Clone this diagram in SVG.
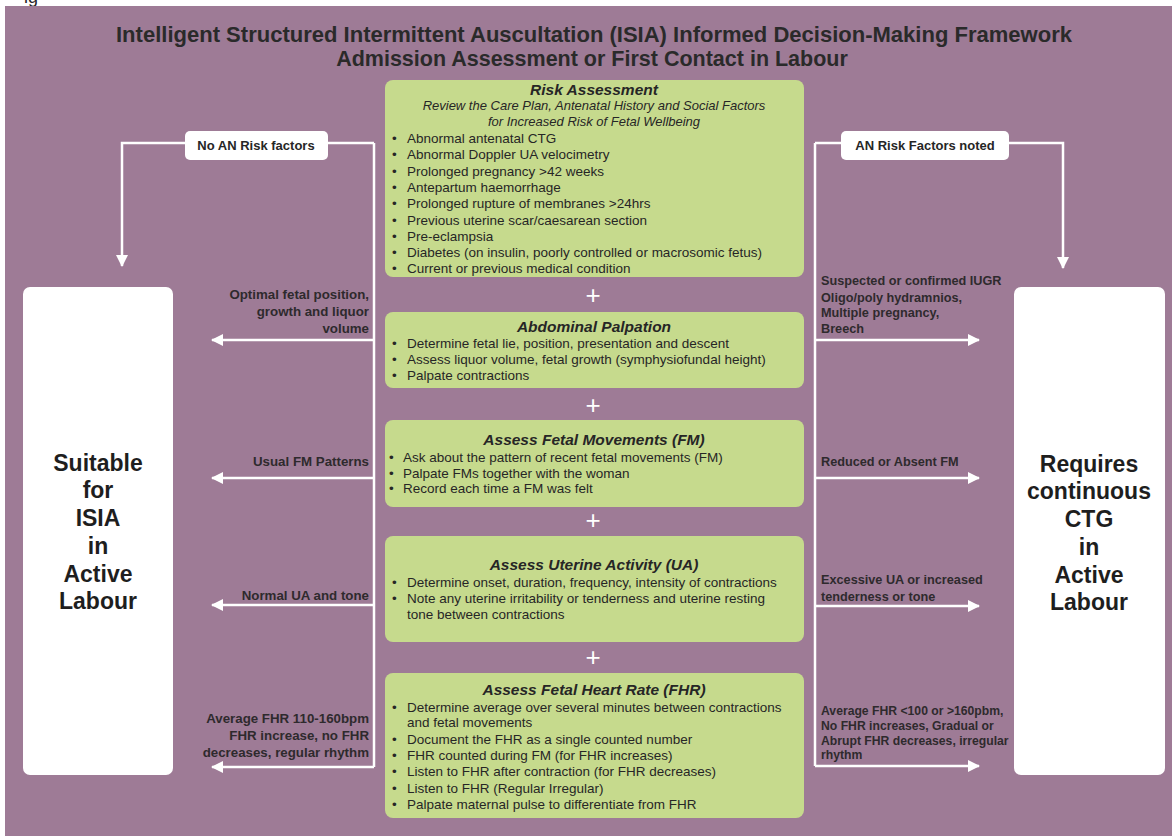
<svg xmlns="http://www.w3.org/2000/svg" width="1172" height="836" viewBox="0 0 1172 836">
<defs>
<marker id="arr" markerUnits="userSpaceOnUse" markerWidth="12" markerHeight="12" viewBox="0 0 12 12" refX="11" refY="6" orient="auto">
<path d="M0,0 L12,6 L0,12 Z" fill="#ffffff"/>
</marker>
</defs>
<style>
.bg{fill:#9e7b96}
.g{fill:#c6da8d}
.w{fill:#ffffff}
.t{font-family:"Liberation Sans",Arial,sans-serif;fill:#262626}
.title{font-size:21.5px;font-weight:bold;text-anchor:middle;fill:#2a2a2a}
.h{font-size:15.5px;font-weight:bold;font-style:italic;text-anchor:middle}
.sub{font-size:13px;font-style:italic;text-anchor:middle}
.b{font-size:13.5px}
.lab{font-size:13.3px;font-weight:bold;fill:#2e2a2d}
.labr{font-size:12.7px;font-weight:bold;fill:#2e2a2d}
.labs{font-size:12.2px;font-weight:bold;fill:#2e2a2d}
.r{text-anchor:end}
.big{font-size:23px;font-weight:bold;text-anchor:middle;fill:#1e1e1e}
.box{font-size:13px;font-weight:bold;text-anchor:middle}
.plus{font-size:26px;fill:#ffffff;text-anchor:middle}
.c{fill:none;stroke:#ffffff;stroke-width:2.5}
</style>
<rect x="0" y="0" width="1172" height="836" fill="#ffffff"/>
<text class="t" x="24" y="3" font-size="18" fill="#222">ig</text>
<rect class="bg" x="5" y="6" width="1167" height="830"/>

<g id="title">
<text class="t title" x="594" y="42" textLength="956" lengthAdjust="spacingAndGlyphs">Intelligent Structured Intermittent Auscultation (ISIA) Informed Decision-Making Framework</text>
<text class="t title" x="592" y="65.5">Admission Assessment or First Contact in Labour</text>
</g>

<g id="connectors">
<path class="c" d="M374,143 H122 V266" marker-end="url(#arr)"/>
<path class="c" d="M815,143 H1063 V268" marker-end="url(#arr)"/>
<path class="c" d="M374,143 V767"/>
<path class="c" d="M815,143 V766"/>
<path class="c" d="M374,340 H212" marker-end="url(#arr)"/>
<path class="c" d="M374,478 H212" marker-end="url(#arr)"/>
<path class="c" d="M374,605 H212" marker-end="url(#arr)"/>
<path class="c" d="M374,767 H212" marker-end="url(#arr)"/>
<path class="c" d="M815,340 H979" marker-end="url(#arr)"/>
<path class="c" d="M815,478 H979" marker-end="url(#arr)"/>
<path class="c" d="M815,606 H979" marker-end="url(#arr)"/>
<path class="c" d="M815,766 H979" marker-end="url(#arr)"/>
</g>

<g id="no-an-risk">
<rect class="w" x="185" y="131" width="143" height="29" rx="5"/>
<text class="t box" x="256" y="150">No AN Risk factors</text>
</g>
<g id="an-risk-noted">
<rect class="w" x="841" y="131" width="168" height="29" rx="5"/>
<text class="t box" x="925" y="150">AN Risk Factors noted</text>
</g>

<g id="risk-assessment">
<rect class="g" x="385" y="80" width="419" height="197" rx="8"/>
<text class="t h" x="594" y="95">Risk Assessment</text>
<text class="t sub" x="594" y="110">Review the Care Plan, Antenatal History and Social Factors</text>
<text class="t sub" x="594" y="126">for Increased Risk of Fetal Wellbeing</text>
<g class="t b">
<text x="392" y="143">•</text><text x="407" y="143">Abnormal antenatal CTG</text>
<text x="392" y="159">•</text><text x="407" y="159">Abnormal Doppler UA velocimetry</text>
<text x="392" y="176">•</text><text x="407" y="176">Prolonged pregnancy &gt;42 weeks</text>
<text x="392" y="192">•</text><text x="407" y="192">Antepartum haemorrhage</text>
<text x="392" y="208">•</text><text x="407" y="208">Prolonged rupture of membranes &gt;24hrs</text>
<text x="392" y="225">•</text><text x="407" y="225">Previous uterine scar/caesarean section</text>
<text x="392" y="241">•</text><text x="407" y="241">Pre-eclampsia</text>
<text x="392" y="257">•</text><text x="407" y="257">Diabetes (on insulin, poorly controlled or macrosomic fetus)</text>
<text x="392" y="273">•</text><text x="407" y="273">Current or previous medical condition</text>
</g>
</g>

<g id="plus-signs">
<text class="t plus" x="593" y="304">+</text>
<text class="t plus" x="593" y="414">+</text>
<text class="t plus" x="593" y="529">+</text>
<text class="t plus" x="593" y="666">+</text>
</g>

<g id="abdominal-palpation">
<rect class="g" x="385" y="312" width="419" height="76" rx="8"/>
<text class="t h" x="594" y="332">Abdominal Palpation</text>
<g class="t b">
<text x="392" y="348">•</text><text x="407" y="348">Determine fetal lie, position, presentation and descent</text>
<text x="392" y="364">•</text><text x="407" y="364">Assess liquor volume, fetal growth (symphysiofundal height)</text>
<text x="392" y="380">•</text><text x="407" y="380">Palpate contractions</text>
</g>
</g>

<g id="fetal-movements">
<rect class="g" x="385" y="420" width="419" height="87" rx="8"/>
<text class="t h" x="594" y="445">Assess Fetal Movements (FM)</text>
<g class="t b">
<text x="389" y="462">•</text><text x="403" y="462">Ask about the pattern of recent fetal movements (FM)</text>
<text x="389" y="478">•</text><text x="403" y="478">Palpate FMs together with the woman</text>
<text x="389" y="493">•</text><text x="403" y="493">Record each time a FM was felt</text>
</g>
</g>

<g id="uterine-activity">
<rect class="g" x="385" y="536" width="419" height="106" rx="8"/>
<text class="t h" x="594" y="570">Assess Uterine Activity (UA)</text>
<g class="t b">
<text x="392" y="587">•</text><text x="407" y="587">Determine onset, duration, frequency, intensity of contractions</text>
<text x="392" y="603">•</text><text x="407" y="603">Note any uterine irritability or tenderness and uterine resting</text>
<text x="407" y="619">tone between contractions</text>
</g>
</g>

<g id="fetal-heart-rate">
<rect class="g" x="385" y="673" width="419" height="145" rx="8"/>
<text class="t h" x="594" y="695">Assess Fetal Heart Rate (FHR)</text>
<g class="t b">
<text x="392" y="712">•</text><text x="407" y="712">Determine average over several minutes between contractions</text>
<text x="407" y="727">and fetal movements</text>
<text x="392" y="744">•</text><text x="407" y="744">Document the FHR as a single counted number</text>
<text x="392" y="760">•</text><text x="407" y="760">FHR counted during FM (for FHR increases)</text>
<text x="392" y="776">•</text><text x="407" y="776">Listen to FHR after contraction (for FHR decreases)</text>
<text x="392" y="793">•</text><text x="407" y="793">Listen to FHR (Regular Irregular)</text>
<text x="392" y="809">•</text><text x="407" y="809">Palpate maternal pulse to differentiate from FHR</text>
</g>
</g>

<g id="suitable-isia">
<rect class="w" x="23" y="287" width="150" height="488" rx="7"/>
<g class="t big">
<text x="98" y="471">Suitable</text>
<text x="98" y="498">for</text>
<text x="98" y="526">ISIA</text>
<text x="98" y="554">in</text>
<text x="98" y="582">Active</text>
<text x="98" y="609">Labour</text>
</g>
</g>

<g id="requires-ctg">
<rect class="w" x="1014" y="287" width="151" height="488" rx="7"/>
<g class="t big">
<text x="1089" y="472">Requires</text>
<text x="1089" y="499">continuous</text>
<text x="1089" y="527">CTG</text>
<text x="1089" y="555">in</text>
<text x="1089" y="583">Active</text>
<text x="1089" y="610">Labour</text>
</g>
</g>

<g id="left-labels" class="t lab r">
<text x="369" y="299">Optimal fetal position,</text>
<text x="369" y="316">growth and liquor</text>
<text x="369" y="333">volume</text>
<text x="369" y="466">Usual FM Patterns</text>
<text x="369" y="600">Normal UA and tone</text>
<text x="369" y="723">Average FHR 110-160bpm</text>
<text x="369" y="740">FHR increase, no FHR</text>
<text x="369" y="757">decreases, regular rhythm</text>
</g>

<g id="right-labels" class="t labr">
<text x="821" y="285">Suspected or confirmed IUGR</text>
<text x="821" y="302">Oligo/poly hydramnios,</text>
<text x="821" y="317">Multiple pregnancy,</text>
<text x="821" y="333">Breech</text>
<text x="821" y="466">Reduced or Absent FM</text>
<text x="821" y="584">Excessive UA or increased</text>
<text x="821" y="601">tenderness or tone</text>
<g class="labs">
<text x="821" y="715">Average FHR &lt;100 or &gt;160pbm,</text>
<text x="821" y="730">No FHR increases, Gradual or</text>
<text x="821" y="745">Abrupt FHR decreases, irregular</text>
<text x="821" y="759">rhythm</text>
</g>
</g>
</svg>
